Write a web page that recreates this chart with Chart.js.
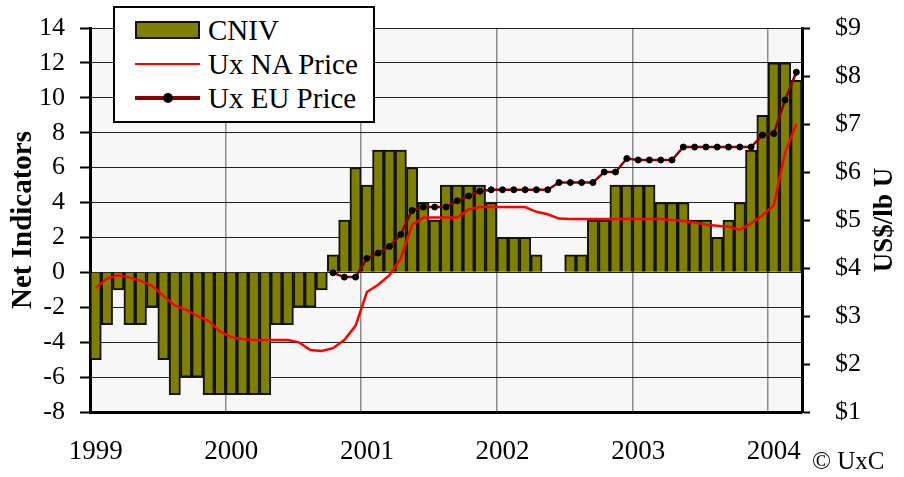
<!DOCTYPE html>
<html lang="en">
<head>
<meta charset="UTF-8">
<meta name="viewport" content="width=device-width, initial-scale=1.0">
<title>CNIV and Ux Prices</title>
<script src="https://cdn.jsdelivr.net/npm/chart.js"></script>
<style>
  body { margin: 0; background: #fff; }
  #wrap { position: relative; width: 904px; height: 477px; }
  #legend {
    position: absolute; left: 113px; top: 6px; width: 262px; height: 117px;
    box-sizing: border-box; padding-top: 5px;
    background: #fff; border: 2px solid #000;
    font-family: "Liberation Serif", serif; font-size: 29px; color: #000;
  }
  .row { display: flex; align-items: center; height: 34px; }
  .key { position: relative; width: 65px; height: 20px; margin-left: 20px; margin-right: 8px; }
  .box { position: absolute; left: 0; top: 1px; width: 65px; height: 18px; box-sizing: border-box; background: #808000; border: 2px solid #111; }
  .line { position: absolute; left: 0; width: 65px; }
  .dot { position: absolute; left: 28px; top: 5px; width: 10px; height: 10px; border-radius: 50%; background: #000; }
  #copy { position: absolute; left: 812px; top: 448px; font-family: "Liberation Serif", serif; font-size: 25px; line-height: 1; }
</style>
</head>
<body>
<div id="wrap">
  <canvas id="chart"></canvas>
  <div id="legend">
    <div class="row"><div class="key"><div class="box"></div></div>CNIV</div>
    <div class="row"><div class="key"><div class="line" style="top:9px;height:2px;background:#ff0000"></div></div>Ux NA Price</div>
    <div class="row"><div class="key"><div class="line" style="top:8px;height:4px;background:#8b0000"></div><div class="dot"></div></div>Ux EU Price</div>
  </div>
  <div id="copy">© UxC</div>
</div>

<script>
  // monthly categories, Jan 1999 - Mar 2004
  const categories = [
    '1999-01','1999-02','1999-03','1999-04','1999-05','1999-06','1999-07','1999-08','1999-09','1999-10','1999-11','1999-12',
    '2000-01','2000-02','2000-03','2000-04','2000-05','2000-06','2000-07','2000-08','2000-09','2000-10','2000-11','2000-12',
    '2001-01','2001-02','2001-03','2001-04','2001-05','2001-06','2001-07','2001-08','2001-09','2001-10','2001-11','2001-12',
    '2002-01','2002-02','2002-03','2002-04','2002-05','2002-06','2002-07','2002-08','2002-09','2002-10','2002-11','2002-12',
    '2003-01','2003-02','2003-03','2003-04','2003-05','2003-06','2003-07','2003-08','2003-09','2003-10','2003-11','2003-12',
    '2004-01','2004-02','2004-03'
  ];
  const yearLabels = ['1999', '2000', '2001', '2002', '2003', '2004'];

  // net indicators (left axis)
  const cniv = [
    -5, -3, -1, -3, -3, -2, -5, -7, -6, -6, -7, -7,
    -7, -7, -7, -7, -3, -3, -2, -2, -1, 1, 3, 6,
    5, 7, 7, 7, 6, 4, 3, 5, 5, 5, 5, 4,
    2, 2, 2, 1, 0, 0, 1, 1, 3, 3, 5, 5,
    5, 5, 4, 4, 4, 3, 3, 2, 3, 4, 7, 9,
    12, 12, 11
  ];

  // prices in US$/lb U (right axis)
  const naPrice = [
    3.58, 3.78, 3.85, 3.80, 3.73, 3.63, 3.42, 3.22, 3.13, 3.00, 2.90, 2.68,
    2.56, 2.52, 2.50, 2.50, 2.50, 2.50, 2.45, 2.29, 2.27, 2.33, 2.50, 2.80,
    3.50, 3.65, 3.85, 4.20, 4.90, 5.05, 5.05, 5.05, 5.05, 5.22, 5.27, 5.27,
    5.27, 5.27, 5.27, 5.17, 5.12, 5.03, 5.02, 5.02, 5.02, 5.02, 5.02, 5.02,
    5.02, 5.02, 5.02, 5.00, 4.98, 4.95, 4.90, 4.88, 4.86, 4.80, 4.93, 5.10,
    5.30, 6.40, 7.00
  ];
  const euPrice = [
    null, null, null, null, null, null, null, null, null, null, null, null,
    null, null, null, null, null, null, null, null, null, 3.90, 3.81, 3.81,
    4.20, 4.31, 4.45, 4.70, 5.20, 5.27, 5.27, 5.27, 5.40, 5.50, 5.60, 5.63,
    5.63, 5.63, 5.63, 5.63, 5.63, 5.78, 5.78, 5.78, 5.78, 6.00, 6.00, 6.28,
    6.25, 6.25, 6.25, 6.25, 6.52, 6.52, 6.52, 6.52, 6.52, 6.52, 6.52, 6.77,
    6.80, 7.50, 8.08
  ];

  const serif = '"Liberation Serif", "Times New Roman", serif';

  const plotBackground = {
    id: 'plotBackground',
    beforeDraw(chart) {
      const { ctx, chartArea: a } = chart;
      ctx.save();
      ctx.fillStyle = '#f7f7f7';
      ctx.fillRect(a.left, a.top, a.right - a.left, a.bottom - a.top);
      ctx.restore();
    }
  };

  // right axis title reads bottom-to-top
  const rightTitle = {
    id: 'rightTitle',
    afterDraw(chart) {
      const { ctx, chartArea: a } = chart;
      ctx.save();
      ctx.translate(885, (a.top + a.bottom) / 2);
      ctx.rotate(-Math.PI / 2);
      ctx.font = 'bold 27px ' + serif;
      ctx.fillStyle = '#000';
      ctx.textAlign = 'center';
      ctx.textBaseline = 'middle';
      ctx.fillText('US$/lb U', 0, 0);
      ctx.restore();
    }
  };

  // fixed axis sizes so the plot area sits where the original one does
  const fixVertical = width => s => {
    s.width = width;
    s.paddingTop = 0;
    s.paddingBottom = 0;
  };

  new Chart(document.getElementById('chart'), {
    data: {
      labels: categories,
      datasets: [
        {
          type: 'line',
          label: 'Ux EU Price',
          data: euPrice,
          yAxisID: 'y1',
          borderColor: '#8b0000',
          borderWidth: 2.5,
          pointRadius: 3,
          pointBackgroundColor: '#000',
          pointBorderColor: '#000',
          pointBorderWidth: 1,
          tension: 0,
          order: 1
        },
        {
          type: 'line',
          label: 'Ux NA Price',
          data: naPrice,
          yAxisID: 'y1',
          borderColor: '#ff0000',
          borderWidth: 2.5,
          pointRadius: 0,
          tension: 0,
          order: 2
        },
        {
          type: 'bar',
          label: 'CNIV',
          data: cniv,
          yAxisID: 'y',
          backgroundColor: '#808000',
          borderColor: '#111',
          borderWidth: 2,
          barPercentage: 1,
          categoryPercentage: 1,
          order: 3
        }
      ]
    },
    options: {
      responsive: true,
      maintainAspectRatio: false,
      animation: false,
      layout: { padding: { top: 28, left: 0, right: 0, bottom: 0 } },
      plugins: {
        legend: { display: false },
        tooltip: { enabled: false }
      },
      scales: {
        x: {
          afterFit: s => { s.height = 65; },
          grid: {
            drawTicks: false,
            lineWidth: 1.5,
            color: c => (c.index > 0 && c.index % 12 === 0) ? '#8c8c8c' : 'rgba(0,0,0,0)'
          },
          border: { display: true, color: '#000', width: 3 },
          ticks: {
            autoSkip: false,
            maxRotation: 0,
            padding: 24,
            color: '#000',
            font: { family: serif, size: 27 },
            callback: (v, i) => i % 12 === 0 ? yearLabels[i / 12] : ''
          }
        },
        y: {
          position: 'left',
          min: -8,
          max: 14,
          afterFit: fixVertical(90),
          grid: { color: '#222', lineWidth: 1, tickLength: 10, tickColor: '#000', tickWidth: 2 },
          border: { display: true, color: '#000', width: 3 },
          ticks: {
            stepSize: 2,
            autoSkip: false,
            padding: 15,
            color: '#000',
            font: { family: serif, size: 26 }
          },
          title: {
            display: true,
            text: 'Net Indicators',
            color: '#000',
            padding: { top: 6, bottom: 0 },
            font: { family: serif, size: 29, weight: 'bold' }
          }
        },
        y1: {
          position: 'right',
          min: 1,
          max: 9,
          afterFit: fixVertical(102),
          grid: { drawOnChartArea: false, tickLength: 8, tickColor: '#000', tickWidth: 2 },
          border: { display: true, color: '#000', width: 3 },
          ticks: {
            stepSize: 1,
            autoSkip: false,
            padding: 25,
            color: '#000',
            font: { family: serif, size: 26 },
            callback: v => '$' + v
          }
        }
      }
    },
    plugins: [plotBackground, rightTitle]
  });
</script>
</body>
</html>
